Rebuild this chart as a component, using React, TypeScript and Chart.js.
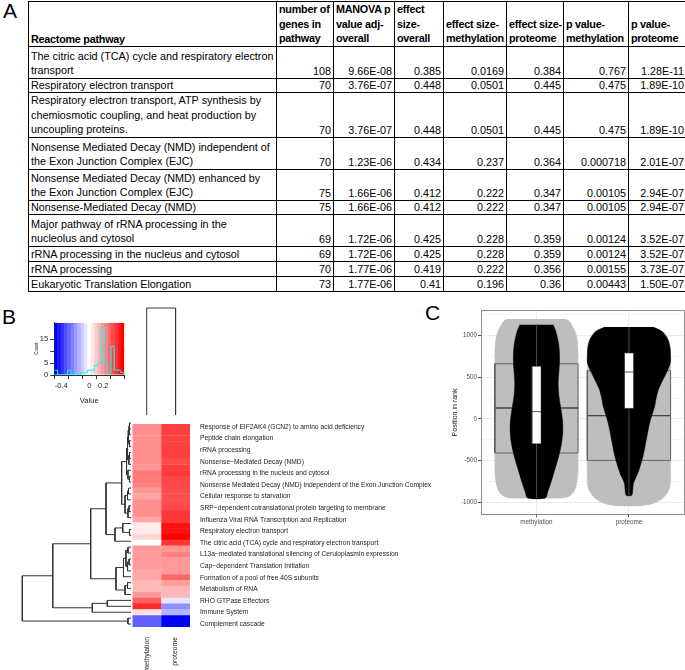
import React, { useEffect, useRef } from "react";
import { Chart, registerables } from "chart.js";

Chart.register(...registerables);

const SANS = "'Liberation Sans', Arial, Helvetica, sans-serif";
const TABLE_FONT = "'Liberation Sans', Arial, sans-serif";

// ---------------- Panel A: table ----------------
const tableHeaders: string[][] = [
  ["Reactome pathway"],
  ["number of", "genes in", "pathway"],
  ["MANOVA p", "value adj-", "overall"],
  ["effect", "size-", "overall"],
  ["effect size-", "methylation"],
  ["effect size-", "proteome"],
  ["p value-", "methylation"],
  ["p value-", "proteome"],
];
const pathwayNames: string[][] = [
  ["The citric acid (TCA) cycle and respiratory electron", "transport"],
  ["Respiratory electron transport"],
  ["Respiratory electron transport, ATP synthesis by", "chemiosmotic coupling, and heat production by", "uncoupling proteins."],
  ["Nonsense Mediated Decay (NMD) independent of", "the Exon Junction Complex (EJC)"],
  ["Nonsense Mediated Decay (NMD) enhanced by", "the Exon Junction Complex (EJC)"],
  ["Nonsense-Mediated Decay (NMD)"],
  ["Major pathway of rRNA processing in the", "nucleolus and cytosol"],
  ["rRNA processing in the nucleus and cytosol"],
  ["rRNA processing"],
  ["Eukaryotic Translation Elongation"],
];
const genesInPathway = [108, 70, 70, 70, 75, 75, 69, 69, 70, 73];
const manovaPAdj = ["9.66E-08", "3.76E-07", "3.76E-07", "1.23E-06", "1.66E-06", "1.66E-06", "1.72E-06", "1.72E-06", "1.77E-06", "1.77E-06"];
const effectOverall = [0.385, 0.448, 0.448, 0.434, 0.412, 0.412, 0.425, 0.425, 0.419, 0.41];
const effectMethylation = [0.0169, 0.0501, 0.0501, 0.237, 0.222, 0.222, 0.228, 0.228, 0.222, 0.196];
const effectProteome = [0.384, 0.445, 0.445, 0.364, 0.347, 0.347, 0.359, 0.359, 0.356, 0.36];
const pMethylation = [0.767, 0.475, 0.475, 0.000718, 0.00105, 0.00105, 0.00124, 0.00124, 0.00155, 0.00443];
const pProteome = ["1.28E-11", "1.89E-10", "1.89E-10", "2.01E-07", "2.94E-07", "2.94E-07", "3.52E-07", "3.52E-07", "3.73E-07", "1.50E-07"];

// ---------------- Panel B: heatmap ----------------
const heatColumns = ["methylation", "proteome"];
const heatRowLabels = [
  "Response of EIF2AK4 (GCN2) to amino acid deficiency",
  "Peptide chain elongation",
  "rRNA processing",
  "Nonsense\u2212Mediated Decay (NMD)",
  "rRNA processing in the nucleus and cytosol",
  "Nonsense Mediated Decay (NMD) independent of the Exon Junction Complex",
  "Cellular response to starvation",
  "SRP\u2212dependent cotranslational protein targeting to membrane",
  "Influenza Viral RNA Transcription and Replication",
  "Respiratory electron transport",
  "The citric acid (TCA) cycle and respiratory electron transport",
  "L13a\u2212mediated translational silencing of Ceruloplasmin expression",
  "Cap\u2212dependent Translation Initiation",
  "Formation of a pool of free 40S subunits",
  "Metabolism of RNA",
  "RHO GTPase Effectors",
  "Immune System",
  "Complement cascade",
];
const methylationEffect = [
  0.22, 0.22, 0.22, 0.22, 0.22, 0.22, 0.22, 0.21, 0.265, 0.26, 0.25, 0.2, 0.18, 0.22, 0.22, 0.22, 0.17,
  0.04, 0.04, 0.08, 0.0, 0.2, 0.2, 0.2, 0.2, 0.175, 0.175, 0.14, 0.14, 0.2, 0.31, 0.42, 0.06, -0.31, -0.31,
];
const proteomeEffect = [
  0.375, 0.375, 0.375, 0.375, 0.375, 0.375, 0.355, 0.38, 0.39, 0.365, 0.36, 0.35, 0.35, 0.35, 0.36, 0.395, 0.395,
  0.47, 0.47, 0.5, 0.395, 0.21, 0.25, 0.2, 0.2, 0.2, 0.3, 0.185, 0.145, 0.14, -0.05, -0.22, -0.145, -0.5, -0.5,
];
// hclust-style merges: negative = leaf (row number), positive = earlier merge; third = height
const rowMerges: [number, number, number][] = [
  [-1, -2, 0.014], [1, -3, 0.018], [-4, -5, 0.014], [2, 3, 0.025], [-6, -7, 0.014], [5, -8, 0.02],
  [4, 6, 0.032], [-10, -11, 0.014], [-9, 8, 0.028], [7, 9, 0.041], [-12, -13, 0.023], [11, -14, 0.032],
  [-15, -16, 0.018], [13, -17, 0.028], [12, 14, 0.055], [10, 15, 0.086], [-19, -20, 0.014], [-18, 17, 0.076],
  [18, -21, 0.147], [16, 19, 0.23], [-22, -23, 0.028], [-24, -25, 0.018], [22, -26, 0.032], [21, 23, 0.046],
  [24, -27, 0.069], [-28, -29, 0.032], [26, -30, 0.055], [25, 27, 0.138], [20, 28, 0.371], [-31, -32, 0.218],
  [30, -33, 0.356], [29, 31, 0.72], [-34, -35, 0.028], [32, 33, 1.0],
];
const colMerges: [number, number, number][] = [[-1, -2, 1.0]];
// colour key
const keyBreaks = [-0.5, -0.452, -0.405, -0.357, -0.31, -0.262, -0.214, -0.167, -0.119, -0.071, -0.024,
  0.024, 0.071, 0.119, 0.167, 0.214, 0.262, 0.31, 0.357, 0.405, 0.452, 0.5];
const keyCounts = [2, 0, 0, 0, 2, 0, 1, 0, 1, 1, 2, 2, 4, 5, 20, 5, 1, 12, 2, 2, 1];
const keyTicks = [-0.4, -0.2, 0, 0.2, 0.4];
const keyTickLabels = ["-0.4", "", "0", "0.2", ""];
const countTicks = [0, 5, 10, 15];
const countTickLabels = ["0", "5", "", "15"];
const keyCountMax = 22;

// ---------------- Panel C: violins ----------------
const violinCategories = ["methylation", "proteome"];
const bgMethRank = [1200, 1180, 1112, 1000, 900, 800, -600, -700, -800, -880, -930, -948];
const bgMethHalfWidth = [0.3, 0.35, 0.39, 0.433, 0.445, 0.45, 0.45, 0.445, 0.43, 0.4, 0.35, 0.28];
const bgProtRank = [1104, 1080, 1052, 1000, 912, 820, -750, -848, -948, -1008, -1040];
const bgProtHalfWidth = [0.244, 0.31, 0.35, 0.404, 0.44, 0.45, 0.45, 0.433, 0.368, 0.278, 0.14];
const setMethRank = [1132, 1050, 900, 750, 600, 450, 300, 150, 0, -150, -300, -450, -600, -750, -880, -948];
const setMethHalfWidth = [0.18, 0.21, 0.24, 0.25, 0.245, 0.235, 0.24, 0.26, 0.28, 0.285, 0.27, 0.24, 0.2, 0.16, 0.12, 0.095];
const setProtRank = [1104, 1050, 952, 850, 752, 672, 552, 452, 352, 252, 152, -48, -248, -448, -648, -768, -868, -916];
const setProtHalfWidth = [0.26, 0.36, 0.422, 0.445, 0.45, 0.448, 0.404, 0.36, 0.318, 0.295, 0.278, 0.224, 0.188, 0.152, 0.097, 0.05, 0.04, 0.03];
const bgBoxMeth = [-408, 132, 663];
const bgBoxProt = [-497, 40, 580];
const setBoxMeth = [-296, 88, 632];
const setBoxProt = [128, 564, 792];
const setWhiskerMeth = [-948, 1132];
const setWhiskerProt = [-916, 1104];
const rankTicks = [-1000, -750, -500, -250, 0, 250, 500, 750, 1000, 1250];

// ---------------- helpers ----------------
function effectColor(v: number) {
  const t = Math.max(-1, Math.min(1, v / 0.5));
  if (t >= 0) {
    const g = Math.round(255 * (1 - t));
    return `rgb(255,${g},${g})`;
  }
  const r = Math.round(255 * (1 + t));
  return `rgb(${r},${r},255)`;
}

type Pt = { x: number; y: number | null };

function dendroSegments(merges: [number, number, number][], horizontal: boolean): Pt[] {
  const pos: number[] = [];
  const hgt: number[] = [];
  const get = (id: number) => (id < 0 ? { p: -id - 0.5, h: 0 } : { p: pos[id - 1], h: hgt[id - 1] });
  const out: Pt[] = [];
  const push = (h: number, p: number | null) => {
    if (horizontal) out.push({ x: h, y: p });
    else out.push({ x: p === null ? 0 : p, y: p === null ? null : h });
  };
  merges.forEach(([a, b, h], k) => {
    const A = get(a);
    const B = get(b);
    pos[k] = (A.p + B.p) / 2;
    hgt[k] = h;
    push(A.h, A.p);
    push(h, A.p);
    push(h, B.p);
    push(B.h, B.p);
    push(h, null);
  });
  return out;
}

function violinShape(center: number, ranks: number[], hw: number[]) {
  const right = ranks.map((y, i) => ({ x: center + hw[i], y }));
  const left = ranks.map((y, i) => ({ x: center - hw[i], y })).reverse();
  return right.concat(left);
}

function boxOutline(center: number, half: number, stats: number[]) {
  return [
    { x: center - half, y: stats[0] },
    { x: center + half, y: stats[0] },
    { x: center + half, y: stats[2] },
    { x: center - half, y: stats[2] },
    { x: center - half, y: stats[0] },
  ];
}

function ChartBox(props: { left: number; top: number; width: number; height: number; make: () => any }) {
  const ref = useRef<HTMLCanvasElement>(null);
  useEffect(() => {
    if (!ref.current) return;
    const chart = new Chart(ref.current, props.make());
    return () => chart.destroy();
  }, []);
  return (
    <canvas
      ref={ref}
      width={props.width}
      height={props.height}
      style={{ position: "absolute", left: props.left, top: props.top, width: props.width, height: props.height }}
    />
  );
}

const noPlugins = { legend: { display: false }, tooltip: { enabled: false } };

// ---------------- chart configs ----------------
function heatmapConfig() {
  return {
    type: "bar",
    data: {
      labels: methylationEffect.map((_, i) => String(i + 1)),
      datasets: [
        {
          data: methylationEffect.map(() => [0, 1]),
          backgroundColor: methylationEffect.map(effectColor),
          borderWidth: 0,
          grouped: false,
          barPercentage: 1.08,
          categoryPercentage: 1,
        },
        {
          data: proteomeEffect.map(() => [1, 2]),
          backgroundColor: proteomeEffect.map(effectColor),
          borderWidth: 0,
          grouped: false,
          barPercentage: 1.08,
          categoryPercentage: 1,
        },
      ],
    },
    options: {
      indexAxis: "y",
      responsive: false,
      animation: false,
      layout: { padding: { left: 7.3, top: 10, right: 0, bottom: 0 } },
      plugins: noPlugins,
      scales: {
        x: {
          type: "linear",
          min: 0,
          max: 2,
          afterBuildTicks: (s: any) => {
            s.ticks = heatColumns.map((_, i) => ({ value: i + 0.5 }));
          },
          ticks: {
            autoSkip: false,
            minRotation: 90,
            maxRotation: 90,
            padding: 10,
            color: "#222",
            font: { family: SANS, size: 6.8 },
            callback: (v: number) => heatColumns[Math.floor(v)],
          },
          grid: { display: false, drawTicks: false },
          border: { display: false },
          afterFit: (s: any) => {
            s.height = 43;
          },
        },
        y: {
          position: "right",
          ticks: {
            autoSkip: false,
            padding: 10,
            color: "#222",
            font: { family: SANS, size: 6.7 },
            callback: (_v: any, i: number) => (i % 2 === 0 ? heatRowLabels[i / 2] : ""),
          },
          grid: { display: false, drawTicks: false },
          border: { display: false },
          afterFit: (s: any) => {
            s.width = 255;
          },
        },
      },
    },
  };
}

function rowDendroConfig() {
  return {
    type: "line",
    data: {
      datasets: [
        {
          data: dendroSegments(rowMerges, true),
          borderColor: "#333",
          borderWidth: 1,
          pointRadius: 0,
          tension: 0,
          spanGaps: false,
          clip: false,
        },
      ],
    },
    options: {
      responsive: false,
      animation: false,
      layout: { padding: { left: 12.3, right: 4, top: 10, bottom: 8 } },
      plugins: noPlugins,
      scales: {
        x: { type: "linear", min: 0, max: 1, reverse: true, display: false },
        y: { type: "linear", min: 0, max: methylationEffect.length, reverse: true, display: false },
      },
    },
  };
}

function colDendroConfig() {
  return {
    type: "line",
    data: {
      datasets: [
        {
          data: dendroSegments(colMerges, false),
          borderColor: "#333",
          borderWidth: 1,
          pointRadius: 0,
          tension: 0,
          spanGaps: false,
          clip: false,
        },
      ],
    },
    options: {
      responsive: false,
      animation: false,
      layout: { padding: { left: 7.3, right: 5, top: 8, bottom: 5 } },
      plugins: noPlugins,
      scales: {
        x: { type: "linear", min: 0, max: heatColumns.length, display: false },
        y: { type: "linear", min: 0, max: 1, display: false },
      },
    },
  };
}

function keyConfig() {
  const bands = keyCounts.map((_, i) => ({
    x: (keyBreaks[i] + keyBreaks[i + 1]) / 2,
    y: keyCountMax,
  }));
  const bandColors = keyCounts.map((_, i) => effectColor(((i - 10) / 10) * 0.5));
  const step = keyBreaks.map((b, i) => ({ x: b, y: keyCounts[Math.min(i, keyCounts.length - 1)] }));
  const tickFont = { family: SANS, size: 7.6 };
  return {
    type: "bar",
    data: {
      datasets: [
        {
          type: "line",
          data: step,
          stepped: true,
          borderColor: "#00FFFF",
          borderWidth: 1,
          pointRadius: 0,
          order: 0,
        },
        {
          type: "bar",
          data: bands,
          backgroundColor: bandColors,
          borderWidth: 0,
          barPercentage: 1.1,
          categoryPercentage: 1,
          order: 1,
        },
      ],
    },
    options: {
      responsive: false,
      animation: false,
      layout: { padding: { left: 0, right: 10.7, top: 10.7, bottom: 0 } },
      plugins: noPlugins,
      scales: {
        x: {
          type: "linear",
          min: -0.5,
          max: 0.5,
          offset: false,
          afterBuildTicks: (s: any) => {
            s.ticks = keyTicks.map((v) => ({ value: v }));
          },
          ticks: {
            autoSkip: false,
            maxRotation: 0,
            padding: 2,
            color: "#222",
            font: tickFont,
            callback: (_v: any, i: number) => keyTickLabels[i],
          },
          grid: { drawOnChartArea: false, drawTicks: true, tickLength: 4, color: "#333" },
          border: { display: true, color: "#333" },
          title: { display: true, text: "Value", color: "#222", font: { family: SANS, size: 7.6 }, padding: { top: 0, bottom: 5 } },
          afterFit: (s: any) => {
            s.height = 35;
          },
        },
        y: {
          type: "linear",
          min: 0,
          max: keyCountMax,
          afterBuildTicks: (s: any) => {
            s.ticks = countTicks.map((v) => ({ value: v }));
          },
          ticks: {
            autoSkip: false,
            padding: 2,
            color: "#222",
            font: tickFont,
            callback: (_v: any, i: number) => countTickLabels[i],
          },
          grid: { drawOnChartArea: false, drawTicks: true, tickLength: 4, color: "#333" },
          border: { display: true, color: "#333" },
          title: { display: true, text: "Count", color: "#222", font: { family: SANS, size: 4.5 }, padding: { top: 19, bottom: 0 } },
          afterFit: (s: any) => {
            s.width = 39.3;
          },
        },
      },
    },
  };
}

function violinConfig() {
  const line = (data: any[], extra: any) => ({
    data,
    pointRadius: 0,
    borderWidth: 0,
    tension: 0,
    fill: false,
    clip: false,
    ...extra,
  });
  const ds: any[] = [];
  const bgShapes = [
    violinShape(1, bgMethRank, bgMethHalfWidth),
    violinShape(2, bgProtRank, bgProtHalfWidth),
  ];
  const setShapes = [
    violinShape(1, setMethRank, setMethHalfWidth),
    violinShape(2, setProtRank, setProtHalfWidth),
  ];
  const bgBoxes = [bgBoxMeth, bgBoxProt];
  const setBoxes = [setBoxMeth, setBoxProt];
  const whiskers = [setWhiskerMeth, setWhiskerProt];
  bgShapes.forEach((s) =>
    ds.push(line(s, { fill: "shape", backgroundColor: "#BEBEBE", borderColor: "#BEBEBE", borderWidth: 0.5, tension: 0.3, order: 10 }))
  );
  bgBoxes.forEach((b, i) => {
    ds.push(line(boxOutline(i + 1, 0.45, b), { borderColor: "#5a5a5a", borderWidth: 0.9, order: 9 }));
    ds.push(line([{ x: i + 0.55, y: b[1] }, { x: i + 1.45, y: b[1] }], { borderColor: "#444", borderWidth: 1.3, order: 9 }));
  });
  setShapes.forEach((s) =>
    ds.push(line(s, { fill: "shape", backgroundColor: "#000", borderColor: "#000", borderWidth: 0.5, tension: 0.3, order: 8 }))
  );
  whiskers.forEach((w, i) =>
    ds.push(line([{ x: i + 1, y: w[0] }, { x: i + 1, y: w[1] }], { borderColor: "#555", borderWidth: 0.9, order: 7 }))
  );
  setBoxes.forEach((b, i) => {
    ds.push(line(boxOutline(i + 1, 0.049, b), { fill: "shape", backgroundColor: "#fff", borderColor: "#333", borderWidth: 0.5, order: 6 }));
    ds.push(line([{ x: i + 0.951, y: b[1] }, { x: i + 1.049, y: b[1] }], { borderColor: "#555", borderWidth: 1, order: 5 }));
  });
  const tickFont = { family: SANS, size: 6.3 };
  const hidden = (pos: string, fit: (s: any) => void) => ({
    type: "linear",
    position: pos,
    display: true,
    ticks: { display: false },
    grid: { display: false, drawTicks: false },
    border: { display: true, color: "#8c8c8c", width: 1 },
    afterFit: fit,
  });
  return {
    type: "line",
    data: { datasets: ds },
    options: {
      responsive: false,
      animation: false,
      layout: { padding: { left: 0, right: 0.6, top: 10.7, bottom: 0 } },
      plugins: noPlugins,
      scales: {
        x: {
          type: "linear",
          min: 0.4,
          max: 2.6,
          afterBuildTicks: (s: any) => {
            s.ticks = violinCategories.map((_, i) => ({ value: i + 1 }));
          },
          ticks: {
            autoSkip: false,
            maxRotation: 0,
            padding: 1,
            color: "#4d4d4d",
            font: tickFont,
            callback: (v: number) => violinCategories[Math.round(v) - 1],
          },
          grid: { color: "#EBEBEB", lineWidth: 1, tickColor: "#555", tickLength: 3 },
          border: { display: true, color: "#8c8c8c", width: 1 },
          afterFit: (s: any) => {
            s.height = 20.7;
          },
        },
        y: {
          type: "linear",
          min: -1144,
          max: 1300,
          afterBuildTicks: (s: any) => {
            s.ticks = rankTicks.map((v) => ({ value: v }));
          },
          ticks: {
            autoSkip: false,
            padding: 1,
            color: "#4d4d4d",
            font: tickFont,
            callback: (v: number) => (v % 500 === 0 ? String(v) : ""),
          },
          grid: {
            color: (c: any) => (c.tick && c.tick.value % 500 === 0 ? "#EBEBEB" : "#F5F5F5"),
            tickColor: (c: any) => (c.tick && c.tick.value % 500 === 0 ? "#555" : "rgba(0,0,0,0)"),
            lineWidth: 1,
            tickLength: 3,
          },
          border: { display: true, color: "#8c8c8c", width: 1 },
          title: {
            display: true,
            text: "Position in rank",
            color: "#111",
            font: { family: SANS, size: 7 },
            padding: { top: 10.8, bottom: 0 },
          },
          afterFit: (s: any) => {
            s.width = 41;
          },
        },
        xTop: { ...hidden("top", (s: any) => { s.height = 0; }), min: 0.4, max: 2.6 },
        yRight: { ...hidden("right", (s: any) => { s.width = 0; }), min: -1144, max: 1300 },
      },
    },
  };
}

// ---------------- layout constants ----------------
const colWidths = [248, 57, 61, 49, 63, 57, 65, 58];
const headerHeight = 44;
const rowHeights = [32, 14.5, 44.5, 32, 31, 14.5, 31.5, 15, 15, 15];

function DataTable() {
  const cell: React.CSSProperties = {
    border: "1px solid #000",
    padding: "0 2px 0 2px",
    verticalAlign: "bottom",
    whiteSpace: "nowrap",
    overflow: "hidden",
  };
  const lines = (ls: string[]) =>
    ls.map((l, i) => (
      <div key={i} style={{ lineHeight: ls.length > 1 ? "14.5px" : "13px" }}>
        {l}
      </div>
    ));
  const num = (v: string | number) => (
    <td style={{ ...cell, textAlign: "right", lineHeight: "13px" }}>{String(v)}</td>
  );
  return (
    <table
      style={{
        position: "absolute",
        left: 28,
        top: 1,
        borderCollapse: "collapse",
        tableLayout: "fixed",
        width: colWidths.reduce((a, b) => a + b, 0),
        fontFamily: TABLE_FONT,
        fontSize: 10.8,
        lineHeight: "13px",
        color: "#000",
        border: "1.5px solid #000",
      }}
    >
      <colgroup>
        {colWidths.map((w, i) => (
          <col key={i} style={{ width: w }} />
        ))}
      </colgroup>
      <tbody>
        <tr style={{ height: headerHeight }}>
          {tableHeaders.map((h, i) => (
            <td key={i} style={{ ...cell, fontWeight: "bold", letterSpacing: "-0.25px" }}>
              {lines(h)}
            </td>
          ))}
        </tr>
        {pathwayNames.map((name, r) => (
          <tr key={r} style={{ height: rowHeights[r] }}>
            <td style={cell}>{lines(name)}</td>
            {num(genesInPathway[r])}
            {num(manovaPAdj[r])}
            {num(effectOverall[r])}
            {num(effectMethylation[r])}
            {num(effectProteome[r])}
            {num(pMethylation[r])}
            {num(pProteome[r])}
          </tr>
        ))}
      </tbody>
    </table>
  );
}

const panelLabel = (text: string, left: number, top: number) => (
  <div style={{ position: "absolute", left, top, fontFamily: SANS, fontSize: 21, lineHeight: 1, color: "#000" }}>{text}</div>
);

export default function App() {
  return (
    <div
      style={{
        position: "absolute",
        left: 0,
        top: 0,
        width: 685,
        height: 670,
        overflow: "hidden",
        background: "#fff",
      }}
    >
      {panelLabel("A", 3, 0)}
      <DataTable />
      {panelLabel("B", 2, 306)}
      {panelLabel("C", 425, 302)}
      <ChartBox left={15} top={312} width={120} height={98} make={keyConfig} />
      <ChartBox left={125} top={300} width={70} height={120} make={colDendroConfig} />
      <ChartBox left={10} top={410} width={125} height={225} make={rowDendroConfig} />
      <ChartBox left={125} top={410} width={320} height={260} make={heatmapConfig} />
      <ChartBox left={440} top={300} width={245} height={235} make={violinConfig} />
    </div>
  );
}
